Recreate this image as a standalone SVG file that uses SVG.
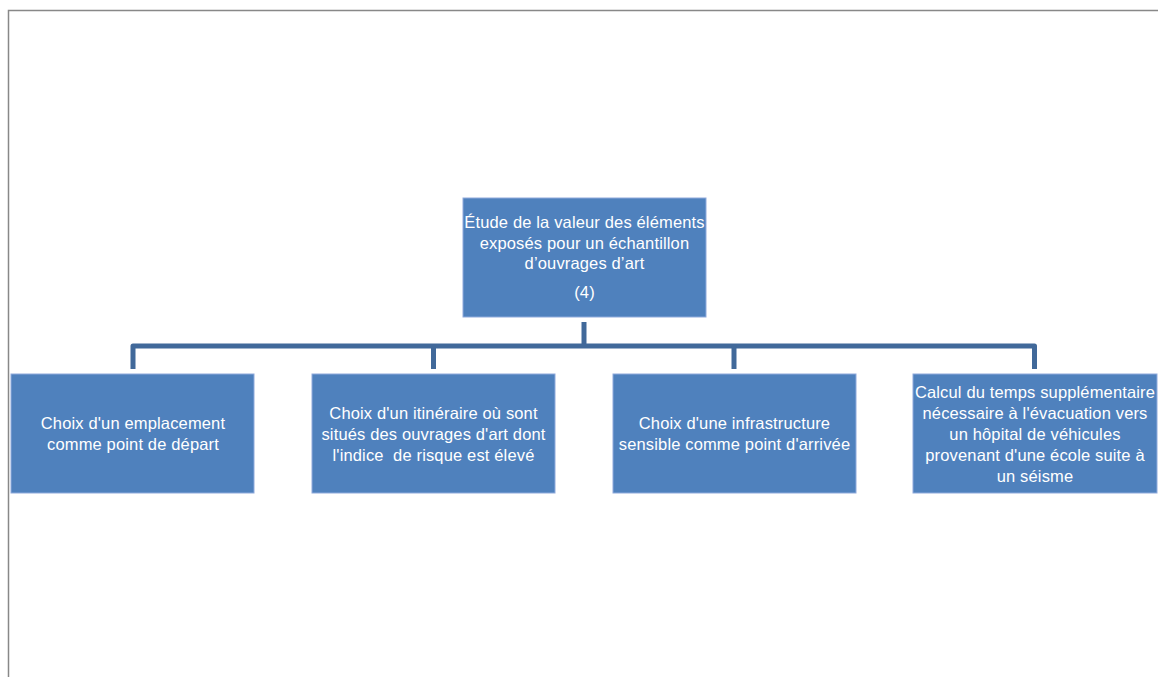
<svg xmlns="http://www.w3.org/2000/svg" width="1158" height="677" viewBox="0 0 1158 677">
<style>
.box{fill:#4F81BD;stroke:#8FAADC;stroke-width:1}
.t{font-family:"Liberation Sans",Arial,sans-serif;font-size:16.5px;fill:#FFFFFF;text-anchor:middle;letter-spacing:0.15px}
.c{stroke:#41699A;stroke-width:5;fill:none;stroke-linejoin:round}
.frame{stroke:#888888;stroke-width:1.5;fill:none}
</style>
<rect x="0" y="0" width="1158" height="677" fill="#FFFFFF"/>
<path class="frame" d="M8.5,677 V10.5 H1158"/>
<g id="connectors">
<path class="c" d="M584,322 V346"/>
<path class="c" d="M133,369 V346 H1034.5 V369"/>
<path class="c" d="M433.5,346 V369"/>
<path class="c" d="M734,346 V369"/>
</g>
<g id="node-root">
<rect class="box" x="463" y="198" width="243" height="119"/>
<text class="t" x="584.5" y="228">Étude de la valeur des éléments</text>
<text class="t" x="584.5" y="249">exposés pour un échantillon</text>
<text class="t" x="584.5" y="269">d’ouvrages d’art</text>
<text class="t" x="584.5" y="298">(4)</text>
</g>
<g id="node-1">
<rect class="box" x="11" y="374" width="243" height="119"/>
<text class="t" x="133" y="429">Choix d'un emplacement</text>
<text class="t" x="133" y="450">comme point de départ</text>
</g>
<g id="node-2">
<rect class="box" x="312" y="374" width="243" height="119"/>
<text class="t" x="433.5" y="419">Choix d'un itinéraire où sont</text>
<text class="t" x="433.5" y="440">situés des ouvrages d'art dont</text>
<text class="t" x="433.5" y="461" xml:space="preserve">l'indice  de risque est élevé</text>
</g>
<g id="node-3">
<rect class="box" x="613" y="374" width="243" height="119"/>
<text class="t" x="734.5" y="429">Choix d'une infrastructure</text>
<text class="t" x="734.5" y="450">sensible comme point d'arrivée</text>
</g>
<g id="node-4">
<rect class="box" x="913" y="374" width="244" height="119"/>
<text class="t" x="1035" y="398">Calcul du temps supplémentaire</text>
<text class="t" x="1035" y="419">nécessaire à l'évacuation vers</text>
<text class="t" x="1035" y="440">un hôpital de véhicules</text>
<text class="t" x="1035" y="461">provenant d'une école suite à</text>
<text class="t" x="1035" y="482">un séisme</text>
</g>
</svg>
